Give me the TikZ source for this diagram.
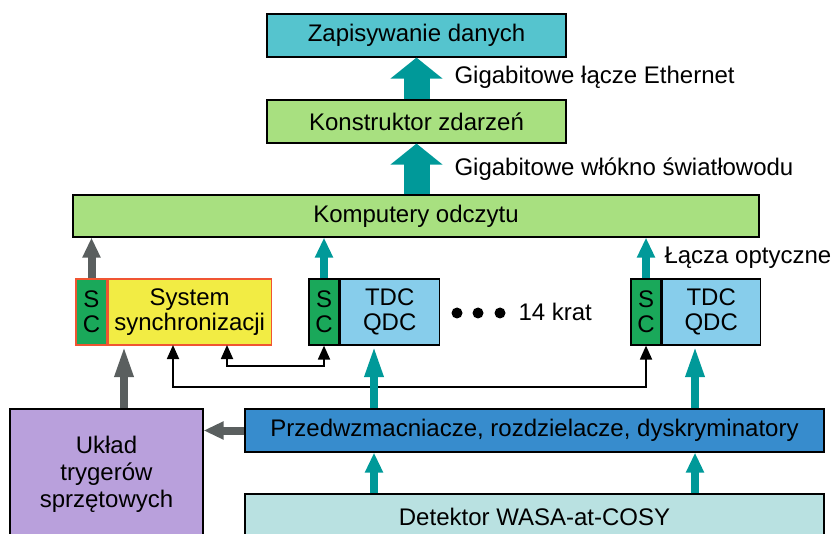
\documentclass[tikz,border=0pt]{standalone}
\usepackage{fontspec}
\setmainfont{Liberation Sans}
\usetikzlibrary{arrows.meta,positioning}

\definecolor{arrteal}{RGB}{0,153,153}
\definecolor{arrgray}{RGB}{90,95,95}
\definecolor{zapcol}{RGB}{85,196,206}
\definecolor{kompcol}{RGB}{168,224,128}
\definecolor{scgreen}{RGB}{26,168,90}
\definecolor{syscol}{RGB}{242,236,68}
\definecolor{redline}{RGB}{240,85,50}
\definecolor{tdccol}{RGB}{135,205,235}
\definecolor{przcol}{RGB}{55,140,205}
\definecolor{uklcol}{RGB}{185,160,220}
\definecolor{detcol}{RGB}{185,225,225}

\begin{document}
\begin{tikzpicture}[x=1pt,y=-1pt,
    font=\fontsize{24}{25}\selectfont,
    box/.style={draw=black, line width=1.2pt, inner sep=0pt, align=center},
    fatarr/.style={arrteal, line width=26pt, -{Triangle[width=51pt,length=21pt]}},
    tealarr/.style={arrteal, line width=8pt, -{Triangle[width=17pt,length=20pt]}},
    grayarr/.style={arrgray, line width=8pt, -{Triangle[width=17pt,length=20pt]}},
    longtip/.style={-{Triangle[width=17pt,length=32pt]}},
    sigarr/.style={black, line width=1.8pt, {Triangle[width=12pt,length=14pt]}-{Triangle[width=12pt,length=14pt]}}]
    \useasboundingbox (0,0) rectangle (832,534);
    \clip (0,0) rectangle (832,534);

    % top of the chain
    \node[box, fill=zapcol, minimum width=299pt, minimum height=43pt] (zap) at (416.5,35.5) {Zapisywanie danych};
    \node[box, fill=kompcol, minimum width=299pt, minimum height=43pt] (kon) at (416.5,121.5) {Konstruktor zdarzeń};
    \node[box, fill=kompcol, minimum width=686pt, minimum height=42pt] (komp) at (416,216) {Komputery odczytu};

    \node[anchor=base west] (eth) at (451,84) {Gigabitowe łącze Ethernet};
    \node[anchor=base west] (fib) at (451,176) {Gigabitowe włókno światłowodu};
    \node[anchor=base west] (opt) at (661,264) {Łącza optyczne};

    % crates
    \node[box, draw=redline, fill=scgreen, minimum width=31pt, minimum height=66pt] (sc1) at (91.5,312) {S\\C};
    \node[box, draw=redline, fill=syscol, minimum width=163pt, minimum height=66pt, right=0pt of sc1] (sys) {System\\synchronizacji};

    \node[box, fill=scgreen, minimum width=30pt, minimum height=66pt] (sc2) at (324,312) {S\\C};
    \node[box, fill=tdccol, minimum width=99pt, minimum height=66pt, right=0pt of sc2] (tdc2) {TDC\\QDC};

    \node[box, fill=scgreen, minimum width=30pt, minimum height=66pt] (sc3) at (646,312) {S\\C};
    \node[box, fill=tdccol, minimum width=98pt, minimum height=66pt, right=0pt of sc3] (tdc3) {TDC\\QDC};

    \foreach \x in {457,478,500}
        \fill (\x,313) circle (5.5pt);
    \node[anchor=base west] (krat) at (515,320) {14 krat};

    % front end
    \node[box, fill=przcol, minimum width=579pt, minimum height=43pt] (prz) at (534.5,430.5) {Przedwzmacniacze, rozdzielacze, dyskryminatory};
    \node[box, fill=uklcol, minimum width=193pt, minimum height=131pt] (ukl) at (106.5,474.5) {Układ\\[2pt]trygerów\\[2pt]sprzętowych};
    \node[box, fill=detcol, minimum width=579pt, minimum height=46pt] (det) at (534.5,517) {Detektor WASA-at-COSY};

    \coordinate (trg) at (124,345);
    \coordinate (lpa) at (173,345);
    \coordinate (lpb) at (227,345);
    \coordinate (tq2) at (374,345);
    \coordinate (tq3) at (695,345);

    \draw[fatarr] (kon.north) -- (zap.south);
    \draw[fatarr] (kon.south |- komp.north) -- (kon.south);

    \draw[grayarr] (sc1.north) -- (sc1.north |- komp.south);
    \draw[tealarr] (sc2.north) -- (sc2.north |- komp.south);
    \draw[tealarr] (sc3.north) -- (sc3.north |- komp.south);

    \draw[grayarr, longtip] (trg |- ukl.north) -- (trg);
    \draw[grayarr] (prz.west) -- (prz.west -| ukl.east);

    \draw[sigarr] (lpa) -- ++(0,42) -| (sc3.south);
    \draw[sigarr] (lpb) -- ++(0,21) -| (sc2.south);

    \draw[tealarr, longtip] (tq2 |- prz.north) -- (tq2);
    \draw[tealarr, longtip] (tq3 |- prz.north) -- (tq3);
    \draw[tealarr] (tq2 |- det.north) -- (tq2 |- prz.south);
    \draw[tealarr] (tq3 |- det.north) -- (tq3 |- prz.south);
\end{tikzpicture}
\end{document}
